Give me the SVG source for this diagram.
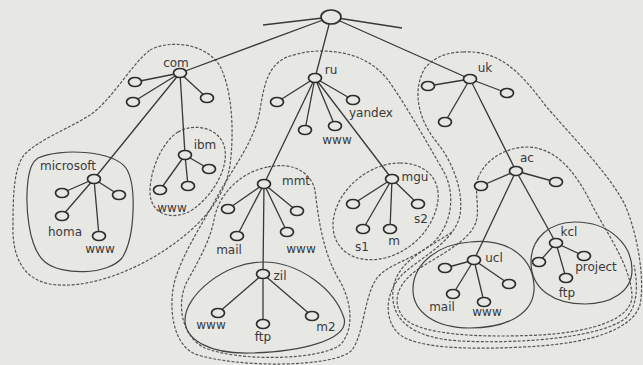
<svg xmlns="http://www.w3.org/2000/svg" width="643" height="365" viewBox="0 0 643 365">
<style>
.bg{fill:#e7e7e4}
.zd{fill:none;stroke:#555;stroke-width:1.2;stroke-dasharray:3 1.6}
.zs{fill:none;stroke:#444;stroke-width:1.2}
.e line{stroke:#383838;stroke-width:1.3}
.n ellipse{fill:#e7e7e4;stroke:#2e2e2e;stroke-width:1.7}
text{font-family:"DejaVu Sans","Liberation Sans",sans-serif;font-size:12px;fill:#3a3a3a;text-anchor:middle}
</style>
<rect class="bg" x="0" y="0" width="643" height="365"/>
<g id="zones">
<path class="zd" d="M 150,50 C 168,40 205,42 220,66 C 233,92 234,135 230,165 C 225,200 198,228 165,250 C 132,272 85,290 50,284 C 22,279 12,255 13,225 C 13,195 14,168 24,155 C 38,140 70,128 90,115 C 112,100 130,66 150,50 Z"/>
<path class="zd" d="M 178,132 C 195,122 222,128 225,150 C 228,172 210,198 192,210 C 172,222 150,214 150,192 C 150,170 162,142 178,132 Z"/>
<path class="zs" d="M 38,158 C 60,148 112,150 126,168 C 137,185 135,238 122,258 C 108,275 62,276 45,262 C 28,248 25,205 28,180 C 30,168 32,162 38,158 Z"/>
<path class="zd" d="M 320,51 C 350,51 372,60 388,80 C 408,108 430,148 444,172 C 456,195 452,225 432,244 C 412,260 388,264 377,278 C 364,296 364,334 352,350 C 336,368 235,368 195,354 C 172,344 168,305 175,280 C 184,250 205,220 218,195 C 235,165 255,140 260,110 C 264,85 268,63 290,56 C 300,53 310,51 320,51 Z"/>
<path class="zd" d="M 268,167 C 290,162 310,170 315,190 C 318,215 322,250 338,278 C 352,300 355,330 340,345 C 320,360 240,362 205,348 C 180,336 176,300 188,280 C 200,258 210,240 214,220 C 218,195 240,172 268,167 Z"/>
<path class="zs" d="M 263,262 C 300,262 335,290 344,318 C 350,340 300,352 250,353 C 210,354 185,340 185,320 C 185,295 225,262 263,262 Z"/>
<path class="zd" d="M 400,163 C 425,163 440,178 438,200 C 435,225 415,250 385,258 C 355,265 333,250 333,225 C 333,195 365,163 400,163 Z"/>
<path class="zd" d="M 463,52 C 500,50 520,72 545,105 C 575,140 610,175 625,205 C 638,235 645,280 640,305 C 632,330 590,342 540,346 C 480,350 415,350 398,333 C 383,318 385,290 405,272 C 425,255 455,240 460,215 C 464,190 452,160 435,140 C 418,118 412,90 425,68 C 435,56 450,52 463,52 Z"/>
<path class="zd" d="M 452,232 C 425,250 396,262 393,290 C 390,320 412,338 460,341 C 520,344 600,338 626,318 C 638,305 638,285 634,265"/>
<path class="zd" d="M 478,178 C 485,160 505,147 528,147 C 555,148 575,170 592,205 C 608,235 630,265 632,295 C 633,320 590,332 540,335 C 480,338 420,335 404,318 C 390,302 398,282 420,268 C 445,252 470,240 476,222 C 480,208 474,190 478,178 Z"/>
<path class="zs" d="M 470,242 C 505,238 532,255 534,285 C 536,315 505,328 470,328 C 435,328 412,312 413,288 C 414,262 440,244 470,242 Z"/>
<path class="zs" d="M 575,222 C 610,222 632,245 632,270 C 632,292 610,304 585,304 C 555,304 531,290 531,262 C 531,238 550,222 575,222 Z"/>
</g>
<g id="connectors" class="e">
<line x1="331" y1="17" x2="263" y2="25"/>
<line x1="331" y1="17" x2="402" y2="28"/>
<line x1="331" y1="17" x2="180" y2="73"/>
<line x1="331" y1="17" x2="315" y2="78"/>
<line x1="331" y1="17" x2="470" y2="79"/>
<line x1="180" y1="73" x2="135" y2="82"/>
<line x1="180" y1="73" x2="133" y2="102"/>
<line x1="180" y1="73" x2="207" y2="98"/>
<line x1="180" y1="73" x2="94" y2="179"/>
<line x1="180" y1="73" x2="185" y2="155"/>
<line x1="94" y1="179" x2="62" y2="193"/>
<line x1="94" y1="179" x2="62" y2="216"/>
<line x1="94" y1="179" x2="119" y2="195"/>
<line x1="94" y1="179" x2="99" y2="236"/>
<line x1="185" y1="155" x2="160" y2="190"/>
<line x1="185" y1="155" x2="188" y2="186"/>
<line x1="185" y1="155" x2="209" y2="169"/>
<line x1="315" y1="78" x2="277" y2="102"/>
<line x1="315" y1="78" x2="305" y2="130"/>
<line x1="315" y1="78" x2="335" y2="126"/>
<line x1="315" y1="78" x2="353" y2="100"/>
<line x1="315" y1="78" x2="264" y2="184"/>
<line x1="315" y1="78" x2="392" y2="179"/>
<line x1="264" y1="184" x2="228" y2="209"/>
<line x1="264" y1="184" x2="237" y2="236"/>
<line x1="264" y1="184" x2="287" y2="232"/>
<line x1="264" y1="184" x2="297" y2="211"/>
<line x1="264" y1="184" x2="263" y2="274"/>
<line x1="263" y1="274" x2="218" y2="313"/>
<line x1="263" y1="274" x2="263" y2="324"/>
<line x1="263" y1="274" x2="312" y2="316"/>
<line x1="392" y1="179" x2="353" y2="204"/>
<line x1="392" y1="179" x2="363" y2="229"/>
<line x1="392" y1="179" x2="390" y2="229"/>
<line x1="392" y1="179" x2="418" y2="204"/>
<line x1="470" y1="79" x2="428" y2="86"/>
<line x1="470" y1="79" x2="445" y2="122"/>
<line x1="470" y1="79" x2="507" y2="93"/>
<line x1="470" y1="79" x2="516" y2="171"/>
<line x1="516" y1="171" x2="481" y2="186"/>
<line x1="516" y1="171" x2="556" y2="182"/>
<line x1="516" y1="171" x2="474" y2="260"/>
<line x1="516" y1="171" x2="556" y2="243"/>
<line x1="474" y1="260" x2="445" y2="268"/>
<line x1="474" y1="260" x2="453" y2="294"/>
<line x1="474" y1="260" x2="484" y2="302"/>
<line x1="474" y1="260" x2="509" y2="284"/>
<line x1="556" y1="243" x2="539" y2="262"/>
<line x1="556" y1="243" x2="566" y2="278"/>
<line x1="556" y1="243" x2="584" y2="256"/>
</g>
<g class="n">
<g id="root"><ellipse cx="331" cy="17" rx="10" ry="7"/></g>
<g id="com"><ellipse cx="180" cy="73" rx="6.5" ry="4.5"/><text x="176" y="67">com</text></g>
<g id="com-a"><ellipse cx="135" cy="82" rx="6.5" ry="4.5"/></g>
<g id="com-b"><ellipse cx="133" cy="102" rx="6.5" ry="4.5"/></g>
<g id="com-c"><ellipse cx="207" cy="98" rx="6.5" ry="4.5"/></g>
<g id="microsoft"><ellipse cx="94" cy="179" rx="6.5" ry="4.5"/><text x="68" y="170">microsoft</text></g>
<g id="ms-a"><ellipse cx="62" cy="193" rx="6.5" ry="4.5"/></g>
<g id="ms-homa"><ellipse cx="62" cy="216" rx="6.5" ry="4.5"/><text x="65" y="236">homa</text></g>
<g id="ms-b"><ellipse cx="119" cy="195" rx="6.5" ry="4.5"/></g>
<g id="ms-www"><ellipse cx="99" cy="236" rx="6.5" ry="4.5"/><text x="100" y="253">www</text></g>
<g id="ibm"><ellipse cx="185" cy="155" rx="6.5" ry="4.5"/><text x="205" y="149">ibm</text></g>
<g id="ibm-www"><ellipse cx="160" cy="190" rx="6.5" ry="4.5"/><text x="172" y="212">www</text></g>
<g id="ibm-a"><ellipse cx="188" cy="186" rx="6.5" ry="4.5"/></g>
<g id="ibm-b"><ellipse cx="209" cy="169" rx="6.5" ry="4.5"/></g>
<g id="ru"><ellipse cx="315" cy="78" rx="6.5" ry="4.5"/><text x="331" y="74">ru</text></g>
<g id="ru-a"><ellipse cx="277" cy="102" rx="6.5" ry="4.5"/></g>
<g id="ru-b"><ellipse cx="305" cy="130" rx="6.5" ry="4.5"/></g>
<g id="ru-www"><ellipse cx="335" cy="126" rx="6.5" ry="4.5"/><text x="337" y="144">www</text></g>
<g id="yandex"><ellipse cx="353" cy="100" rx="6.5" ry="4.5"/><text x="371" y="117">yandex</text></g>
<g id="mmt"><ellipse cx="264" cy="184" rx="6.5" ry="4.5"/><text x="296" y="185">mmt</text></g>
<g id="mmt-a"><ellipse cx="228" cy="209" rx="6.5" ry="4.5"/></g>
<g id="mmt-mail"><ellipse cx="237" cy="236" rx="6.5" ry="4.5"/><text x="229" y="254">mail</text></g>
<g id="mmt-www"><ellipse cx="287" cy="232" rx="6.5" ry="4.5"/><text x="301" y="253">www</text></g>
<g id="mmt-b"><ellipse cx="297" cy="211" rx="6.5" ry="4.5"/></g>
<g id="zil"><ellipse cx="263" cy="274" rx="6.5" ry="4.5"/><text x="280" y="280">zil</text></g>
<g id="zil-www"><ellipse cx="218" cy="313" rx="6.5" ry="4.5"/><text x="211" y="329">www</text></g>
<g id="zil-ftp"><ellipse cx="263" cy="324" rx="6.5" ry="4.5"/><text x="263" y="341">ftp</text></g>
<g id="zil-m2"><ellipse cx="312" cy="316" rx="6.5" ry="4.5"/><text x="326" y="331">m2</text></g>
<g id="mgu"><ellipse cx="392" cy="179" rx="6.5" ry="4.5"/><text x="415" y="181">mgu</text></g>
<g id="mgu-a"><ellipse cx="353" cy="204" rx="6.5" ry="4.5"/></g>
<g id="mgu-s1"><ellipse cx="363" cy="229" rx="6.5" ry="4.5"/><text x="362" y="251">s1</text></g>
<g id="mgu-m"><ellipse cx="390" cy="229" rx="6.5" ry="4.5"/><text x="394" y="245">m</text></g>
<g id="mgu-s2"><ellipse cx="418" cy="204" rx="6.5" ry="4.5"/><text x="421" y="223">s2</text></g>
<g id="uk"><ellipse cx="470" cy="79" rx="6.5" ry="4.5"/><text x="485" y="72">uk</text></g>
<g id="uk-a"><ellipse cx="428" cy="86" rx="6.5" ry="4.5"/></g>
<g id="uk-b"><ellipse cx="445" cy="122" rx="6.5" ry="4.5"/></g>
<g id="uk-c"><ellipse cx="507" cy="93" rx="6.5" ry="4.5"/></g>
<g id="ac"><ellipse cx="516" cy="171" rx="6.5" ry="4.5"/><text x="527" y="162">ac</text></g>
<g id="ac-a"><ellipse cx="481" cy="186" rx="6.5" ry="4.5"/></g>
<g id="ac-b"><ellipse cx="556" cy="182" rx="6.5" ry="4.5"/></g>
<g id="ucl"><ellipse cx="474" cy="260" rx="6.5" ry="4.5"/><text x="494" y="262">ucl</text></g>
<g id="ucl-a"><ellipse cx="445" cy="268" rx="6.5" ry="4.5"/></g>
<g id="ucl-mail"><ellipse cx="453" cy="294" rx="6.5" ry="4.5"/><text x="442" y="311">mail</text></g>
<g id="ucl-www"><ellipse cx="484" cy="302" rx="6.5" ry="4.5"/><text x="487" y="316">www</text></g>
<g id="ucl-b"><ellipse cx="509" cy="284" rx="6.5" ry="4.5"/></g>
<g id="kcl"><ellipse cx="556" cy="243" rx="6.5" ry="4.5"/><text x="569" y="236">kcl</text></g>
<g id="kcl-a"><ellipse cx="539" cy="262" rx="6.5" ry="4.5"/></g>
<g id="kcl-ftp"><ellipse cx="566" cy="278" rx="6.5" ry="4.5"/><text x="567" y="297">ftp</text></g>
<g id="kcl-project"><ellipse cx="584" cy="256" rx="6.5" ry="4.5"/><text x="596" y="271">project</text></g>
</g>
</svg>
